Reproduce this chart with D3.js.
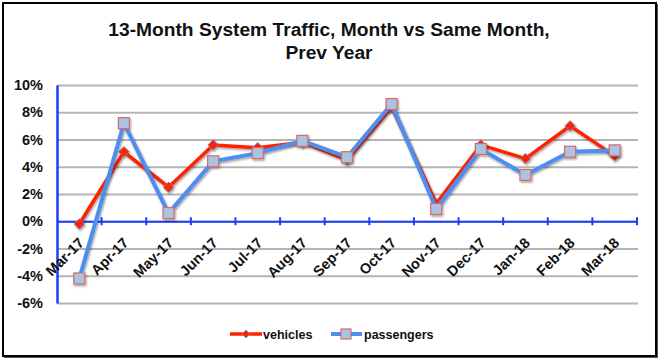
<!DOCTYPE html>
<html><head><meta charset="utf-8">
<script src="https://cdnjs.cloudflare.com/ajax/libs/d3/7.8.5/d3.min.js"></script>
<style>body{margin:0;background:#fff}svg{display:block}</style>
</head><body><svg id="c" width="660" height="360"></svg>
<script>
const months = ["Mar-17","Apr-17","May-17","Jun-17","Jul-17","Aug-17","Sep-17","Oct-17","Nov-17","Dec-17","Jan-18","Feb-18","Mar-18"];
const vehicles = [-0.2,5.1,2.5,5.6,5.4,5.8,4.5,8.4,1.3,5.6,4.6,7.0,4.8];
const passengers = [-4.2,7.2,0.6,4.4,5.0,5.9,4.7,8.6,0.9,5.3,3.4,5.1,5.2];
const yTicks = [-6,-4,-2,0,2,4,6,8,10];
const titleLines = ["13-Month System Traffic, Month vs Same Month,","Prev Year"];

const FF = "Liberation Sans, Arial, sans-serif";
const svg = d3.select("#c");
const defs = svg.append("defs");
const f = defs.append("filter").attr("id","sh").attr("x","-20%").attr("y","-20%").attr("width","140%").attr("height","140%");
f.append("feDropShadow").attr("dx",1).attr("dy",1.5).attr("stdDeviation",1).attr("flood-color","#000").attr("flood-opacity",0.4);

// frame
svg.append("rect").attr("x",4).attr("y",4).attr("width",654).attr("height",354).attr("fill","#555");
svg.append("rect").attr("x",3).attr("y",3).attr("width",653).attr("height",353).attr("fill","#fff").attr("stroke","#000").attr("stroke-width",2);

const x = d3.scaleBand().domain(months).range([57,637]);
const y = d3.scaleLinear().domain([-6,10]).range([303,85]);

svg.append("g").selectAll("text").data(titleLines).join("text")
  .attr("x",329).attr("y",(d,i)=>36+i*23).attr("text-anchor","middle")
  .attr("font-family",FF).attr("font-weight","bold").attr("font-size",19.2).attr("fill","#111")
  .text(d=>d);

// grid
const grid = d3.axisLeft(y).tickValues(yTicks).tickSize(-(637-57)).tickFormat("");
const gg = svg.append("g").attr("transform","translate(57,0)").call(grid);
gg.select(".domain").remove();
gg.selectAll("line").attr("stroke","#b4b4b4").attr("stroke-width",2).attr("x2",581);

// y axis labels
const ya = d3.axisLeft(y).tickValues(yTicks).tickSize(0).tickPadding(14).tickFormat(d=>d+"%");
const yg = svg.append("g").attr("transform","translate(57,0)").call(ya);
yg.select(".domain").attr("stroke","#1a3cff").attr("stroke-width",2.5);
yg.selectAll("text").attr("font-family",FF).attr("font-weight","bold").attr("font-size",14.5).attr("fill","#111");

// x axis at 0
const xa = d3.axisBottom(x).tickSize(0).tickFormat(d=>d);
const xg = svg.append("g").attr("transform",`translate(0,${y(0)})`).call(xa);
xg.select(".domain").attr("stroke","#1a3cff").attr("stroke-width",2);
xg.selectAll("text").attr("font-family",FF).attr("font-weight","bold").attr("font-size",14.5).attr("fill","#111")
  .attr("text-anchor","end").attr("x",0).attr("y",0).attr("dy","0.35em")
  .attr("transform","translate(2,19) rotate(-45)");
// tick marks at boundaries
const bounds = months.slice(1).map(m=>x(m)).concat([x.range()[1]]);
svg.append("g").selectAll("line").data(bounds).join("line")
  .attr("x1",d=>d).attr("x2",d=>d).attr("y1",y(0)-4).attr("y2",y(0)+4).attr("stroke","#1a3cff").attr("stroke-width",2);

const cx = d=>x(d)+x.bandwidth()/2;
const line = d3.line().x((d,i)=>cx(months[i])).y(d=>y(d));

const gv = svg.append("g").attr("filter","url(#sh)");
gv.append("path").datum(vehicles).attr("d",line).attr("fill","none").attr("stroke","#ff2200").attr("stroke-width",3.5);
gv.selectAll("path.m").data(vehicles).join("path").attr("class","m")
  .attr("d",d3.symbol().type(d3.symbolDiamond2).size(70))
  .attr("transform",(d,i)=>`translate(${cx(months[i])},${y(d)})`)
  .attr("fill","#ff2200").attr("stroke","#6b8fd6").attr("stroke-width",0.8);

const gp = svg.append("g").attr("filter","url(#sh)");
gp.append("path").datum(passengers).attr("d",line).attr("fill","none").attr("stroke","#4d8ff0").attr("stroke-width",4);
gp.selectAll("rect").data(passengers).join("rect")
  .attr("x",(d,i)=>cx(months[i])-5.5).attr("y",d=>y(d)-5.5).attr("width",11).attr("height",11)
  .attr("fill","#a9c3e0").attr("stroke","#d96b6b").attr("stroke-width",1.2);

// legend
const lg = svg.append("g");
const ly = 334;
lg.append("line").attr("x1",230).attr("x2",262).attr("y1",ly).attr("y2",ly).attr("stroke","#ff2200").attr("stroke-width",3.5);
lg.append("path").attr("d",d3.symbol().type(d3.symbolDiamond2).size(40)).attr("transform",`translate(246,${ly})`).attr("fill","#ff2200").attr("stroke","#6b8fd6").attr("stroke-width",0.8);
lg.append("text").attr("x",263).attr("y",ly+5).text("vehicles");
lg.append("line").attr("x1",331).attr("x2",362).attr("y1",ly).attr("y2",ly).attr("stroke","#4d8ff0").attr("stroke-width",4);
lg.append("rect").attr("x",341).attr("y",ly-5).attr("width",10).attr("height",10).attr("fill","#a9c3e0").attr("stroke","#d96b6b").attr("stroke-width",1.2);
lg.append("text").attr("x",364).attr("y",ly+5).text("passengers");
lg.selectAll("text").attr("font-family",FF).attr("font-weight","bold").attr("font-size",12.5).attr("fill","#111");
</script></body></html>
